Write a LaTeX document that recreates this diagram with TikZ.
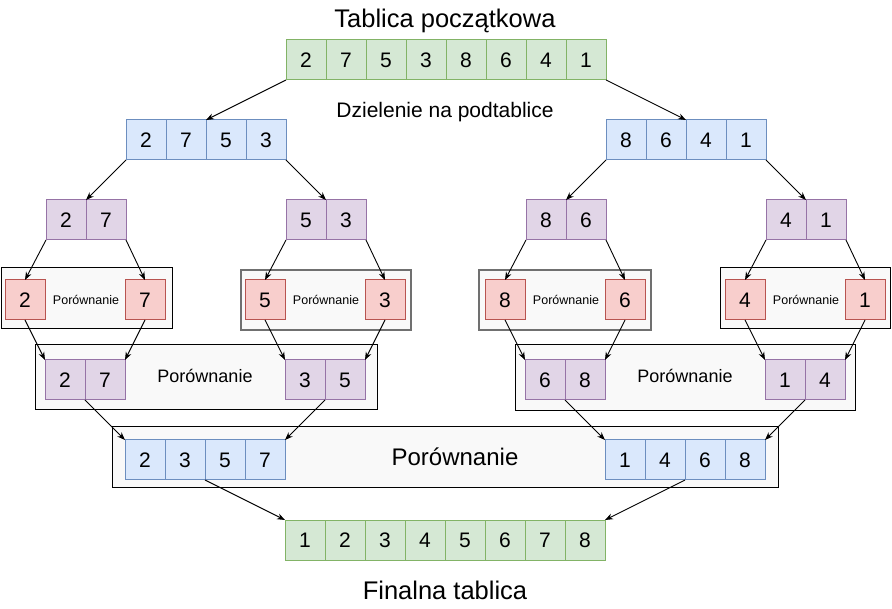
\documentclass[tikz,border=0pt]{standalone}
\usepackage{fontspec}
\setmainfont{Liberation Sans}
\usetikzlibrary{arrows.meta}
\definecolor{gfill}{HTML}{D5E8D4}\definecolor{gline}{HTML}{82B366}
\definecolor{bfill}{HTML}{DAE8FC}\definecolor{bline}{HTML}{6C8EBF}
\definecolor{pfill}{HTML}{E1D5E7}\definecolor{pline}{HTML}{9673A6}
\definecolor{rfill}{HTML}{F8CECC}\definecolor{rline}{HTML}{B85450}
\definecolor{boxfill}{HTML}{F9F9F9}\definecolor{boxgray}{HTML}{707070}
\tikzset{
 cell/.style={draw, line width=1pt, minimum width=40pt, minimum height=40pt, inner sep=0pt, outer sep=0pt, font=\fontsize{21}{21}\selectfont},
 gcell/.style={cell, fill=gfill, draw=gline},
 bcell/.style={cell, fill=bfill, draw=bline},
 pcell/.style={cell, fill=pfill, draw=pline},
 rcell/.style={cell, fill=rfill, draw=rline},
 cmpbox/.style={draw=black, line width=1pt, fill=boxfill, inner sep=0pt, outer sep=0pt},
 cmpboxg/.style={cmpbox, draw=boxgray, line width=2pt},
 arr/.style={-{Stealth[length=8pt,width=6pt]}, line width=0.9pt},
 lbl/.style={anchor=base, inner sep=0pt},
}
\begin{document}
\begin{tikzpicture}[x=1pt,y=-1pt]
\useasboundingbox (0,0) rectangle (892,609);
% comparison boxes
\node[cmpbox, minimum width=171pt, minimum height=61pt] (box1) at (86.5,298.5) {};
\node[cmpboxg, minimum width=170pt, minimum height=60pt] (box2) at (325.5,300) {};
\node[cmpboxg, minimum width=172pt, minimum height=60pt] (box3) at (565,300) {};
\node[cmpbox, minimum width=170pt, minimum height=61pt] (box4) at (805.5,298.5) {};
\node[cmpbox, minimum width=342pt, minimum height=65pt] (box5) at (206,377.5) {};
\node[cmpbox, minimum width=340pt, minimum height=66pt] (box6) at (685,378) {};
\node[cmpbox, minimum width=666pt, minimum height=61pt] (box7) at (445,457.5) {};
% texts
\node[lbl, font=\fontsize{25.5}{25.5}\selectfont] (title) at (445,28) {Tablica początkowa};
\node[lbl, font=\fontsize{21}{21}\selectfont] (split) at (445,118) {Dzielenie na podtablice};
\node[lbl, font=\fontsize{25.5}{25.5}\selectfont] (final) at (445,599) {Finalna tablica};
\node[lbl, font=\fontsize{12.5}{12.5}\selectfont] (p1) at (86,305) {Porównanie};
\node[lbl, font=\fontsize{12.5}{12.5}\selectfont] (p2) at (326,305) {Porównanie};
\node[lbl, font=\fontsize{12.5}{12.5}\selectfont] (p3) at (566,305) {Porównanie};
\node[lbl, font=\fontsize{12.5}{12.5}\selectfont] (p4) at (806,305) {Porównanie};
\node[lbl, font=\fontsize{18}{18}\selectfont] (p5) at (205,383) {Porównanie};
\node[lbl, font=\fontsize{18}{18}\selectfont] (p6) at (685,383) {Porównanie};
\node[lbl, font=\fontsize{24}{24}\selectfont] (p7) at (455,466) {Porównanie};
% arrays
\foreach \v [count=\i] in {2,7,5,3,8,6,4,1} \node[gcell] (t\i) at ({266+40*\i},60) {\v};
\foreach \v [count=\i] in {2,7,5,3} \node[bcell] (a\i) at ({106+40*\i},140) {\v};
\foreach \v [count=\i] in {8,6,4,1} \node[bcell] (b\i) at ({586+40*\i},140) {\v};
\foreach \v [count=\i] in {2,7} \node[pcell] (c\i) at ({26+40*\i},220) {\v};
\foreach \v [count=\i] in {5,3} \node[pcell] (d\i) at ({266+40*\i},220) {\v};
\foreach \v [count=\i] in {8,6} \node[pcell] (e\i) at ({506+40*\i},220) {\v};
\foreach \v [count=\i] in {4,1} \node[pcell] (f\i) at ({746+40*\i},220) {\v};
\node[rcell] (r1) at (25,300) {2};
\node[rcell] (r2) at (145,300) {7};
\node[rcell] (r3) at (265,300) {5};
\node[rcell] (r4) at (385,300) {3};
\node[rcell] (r5) at (505,300) {8};
\node[rcell] (r6) at (625,300) {6};
\node[rcell] (r7) at (745,300) {4};
\node[rcell] (r8) at (865,300) {1};
\foreach \v [count=\i] in {2,7} \node[pcell] (g\i) at ({25+40*\i},380) {\v};
\foreach \v [count=\i] in {3,5} \node[pcell] (h\i) at ({265+40*\i},380) {\v};
\foreach \v [count=\i] in {6,8} \node[pcell] (i\i) at ({505+40*\i},380) {\v};
\foreach \v [count=\i] in {1,4} \node[pcell] (j\i) at ({745+40*\i},380) {\v};
\foreach \v [count=\i] in {2,3,5,7} \node[bcell] (k\i) at ({105+40*\i},460) {\v};
\foreach \v [count=\i] in {1,4,6,8} \node[bcell] (m\i) at ({585+40*\i},460) {\v};
\foreach \v [count=\i] in {1,2,3,4,5,6,7,8} \node[gcell] (z\i) at ({265+40*\i},540) {\v};
% arrows
\draw[arr] (t1.south west) -- (a2.north east);
\draw[arr] (t8.south east) -- (b2.north east);
\draw[arr] (a1.south west) -- (c1.north east);
\draw[arr] (a4.south east) -- (d1.north east);
\draw[arr] (b1.south west) -- (e1.north east);
\draw[arr] (b4.south east) -- (f1.north east);
\draw[arr] (c1.south west) -- (r1.north);
\draw[arr] (c2.south east) -- (r2.north);
\draw[arr] (d1.south west) -- (r3.north);
\draw[arr] (d2.south east) -- (r4.north);
\draw[arr] (e1.south west) -- (r5.north);
\draw[arr] (e2.south east) -- (r6.north);
\draw[arr] (f1.south west) -- (r7.north);
\draw[arr] (f2.south east) -- (r8.north);
\draw[arr] (r1.south) -- (g1.north west);
\draw[arr] (r2.south) -- (g2.north east);
\draw[arr] (r3.south) -- (h1.north west);
\draw[arr] (r4.south) -- (h2.north east);
\draw[arr] (r5.south) -- (i1.north west);
\draw[arr] (r6.south) -- (i2.north east);
\draw[arr] (r7.south) -- (j1.north west);
\draw[arr] (r8.south) -- (j2.north east);
\draw[arr] (g1.south east) -- (k1.north west);
\draw[arr] (h1.south east) -- (k4.north east);
\draw[arr] (i1.south east) -- (m1.north west);
\draw[arr] (j1.south east) -- (m4.north east);
\draw[arr] (k2.south east) -- (z1.north west);
\draw[arr] (m2.south east) -- (z8.north east);
\end{tikzpicture}
\end{document}
